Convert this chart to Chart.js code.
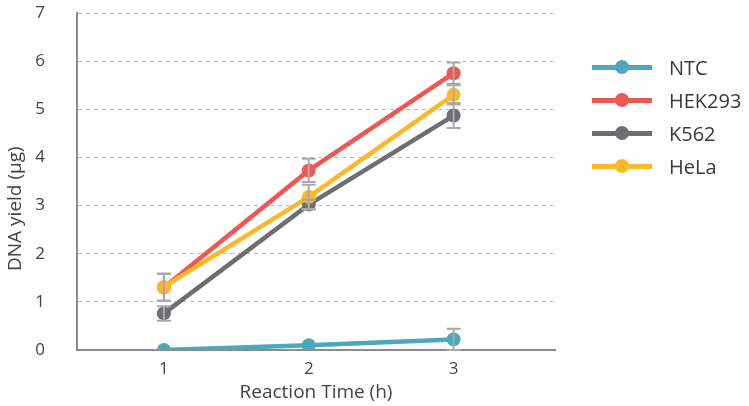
<!DOCTYPE html>
<html>
<head>
<meta charset="utf-8">
<script src="https://cdn.jsdelivr.net/npm/chart.js@4/dist/chart.umd.min.js"></script>
<style>
  html, body { margin:0; padding:0; background:#fff; }
  #wrap { position:relative; width:749px; height:406px; }
  #legend { position:absolute; left:592px; top:53px; font-family:"Open Sans", sans-serif; font-size:20px; color:#3a3a3a; }
  .lg-row { position:relative; height:33px; }
  .lg-line { position:absolute; left:0; top:12px; width:60px; height:5px; }
  .lg-dot { position:absolute; left:23px; top:7px; width:14px; height:14px; border-radius:50%; }
  .lg-txt { position:absolute; left:77px; top:0; line-height:29px; }
</style>
</head>
<body>
<div id="wrap">
  <canvas id="c" width="749" height="406"></canvas>
  <div id="legend"></div>
</div>
<script>
// ---- data ----
var hours = [1, 2, 3];
var seriesNames = ['NTC', 'HEK293', 'K562', 'HeLa'];
var seriesColors = ['#4BA8BD', '#EF5753', '#6D6E71', '#FDB827'];
var ntc    = [0.0, 0.1, 0.22];
var hek293 = [1.3, 3.73, 5.75];
var k562   = [0.76, 3.02, 4.87];
var hela   = [1.31, 3.18, 5.3];
var ntcErr    = [0, 0, 0.22];
var hek293Err = [0.28, 0.24, 0.22];
var k562Err   = [0.15, 0.1, 0.26];
var helaErr   = [0.28, 0.25, 0.2];
var yTicks = [0, 1, 2, 3, 4, 5, 6, 7];

var allValues = [ntc, hek293, k562, hela];
var allErrors = [ntcErr, hek293Err, k562Err, helaErr];

var FONT = '"Open Sans", sans-serif';

var datasets = seriesNames.map(function(name, i) {
  return {
    label: name,
    data: hours.map(function(h, j) { return { x: h, y: allValues[i][j] }; }),
    errors: allErrors[i],
    order: -i,  // later series drawn on top (HeLa over HEK293 at 1h)
    borderColor: seriesColors[i],
    backgroundColor: seriesColors[i],
    borderWidth: 4.5,
    pointRadius: 7,
    pointHoverRadius: 7,
    pointBorderWidth: 0,
    tension: 0
  };
});

// error bars drawn through the chart's own scales
var errorBars = {
  id: 'errorBars',
  afterDatasetsDraw: function(chart) {
    var ctx = chart.ctx, xs = chart.scales.x, ys = chart.scales.y;
    ctx.save();
    ctx.strokeStyle = '#A7A9AC';
    ctx.lineWidth = 2;
    chart.data.datasets.forEach(function(ds) {
      ds.data.forEach(function(p, j) {
        var e = ds.errors[j];
        if (!e) return;
        var x = xs.getPixelForValue(p.x);
        var y1 = ys.getPixelForValue(p.y + e);
        var y2 = ys.getPixelForValue(Math.max(0, p.y - e));
        ctx.beginPath();
        ctx.moveTo(x, y1); ctx.lineTo(x, y2);
        ctx.moveTo(x - 7, y1); ctx.lineTo(x + 7, y1);
        ctx.moveTo(x - 7, y2); ctx.lineTo(x + 7, y2);
        ctx.stroke();
      });
    });
    ctx.restore();
  }
};

new Chart(document.getElementById('c'), {
  type: 'line',
  data: { datasets: datasets },
  plugins: [errorBars],
  options: {
    responsive: false,
    animation: false,
    layout: { padding: { top: 13, right: 194, left: 0, bottom: 0 } },
    plugins: { legend: { display: false }, tooltip: { enabled: false } },
    scales: {
      x: {
        type: 'linear',
        min: 0.4, max: 3.7,
        afterBuildTicks: function(s) { s.ticks = hours.map(function(v) { return { value: v }; }); },
        afterFit: function(s) { s.height = 56; },
        grid: { display: false, drawTicks: false },
        border: { display: true, color: '#8A8C8E', width: 2 },
        ticks: { color: '#444', font: { family: FONT, size: 17 }, padding: 9, maxRotation: 0 },
        title: { display: true, text: 'Reaction Time (h)', color: '#444', font: { family: FONT, size: 19 }, padding: { top: 0, bottom: 2 } }
      },
      y: {
        min: 0, max: 7,
        afterBuildTicks: function(s) { s.ticks = yTicks.map(function(v) { return { value: v }; }); },
        afterFit: function(s) { s.width = 77; s.paddingTop = 0; s.paddingBottom = 0; },
        grid: { color: '#BDBDBD', lineWidth: 1, drawTicks: false },
        border: { display: true, color: '#8A8C8E', width: 2, dash: [4, 4] },
        ticks: { color: '#444', font: { family: FONT, size: 17 }, padding: 32 },
        title: { display: true, text: 'DNA yield (µg)' + '\u00a0'.repeat(11), color: '#444', font: { family: FONT, size: 19 }, padding: { top: 4, bottom: 0 } }
      }
    }
  }
});

// legend: line with a dot, as in the picture
var lg = document.getElementById('legend');
seriesNames.forEach(function(name, i) {
  var row = document.createElement('div');
  row.className = 'lg-row';
  row.innerHTML = '<div class="lg-line" style="background:' + seriesColors[i] + '"></div>'
    + '<div class="lg-dot" style="background:' + seriesColors[i] + '"></div>'
    + '<div class="lg-txt">' + name + '</div>';
  lg.appendChild(row);
});
</script>
</body>
</html>
